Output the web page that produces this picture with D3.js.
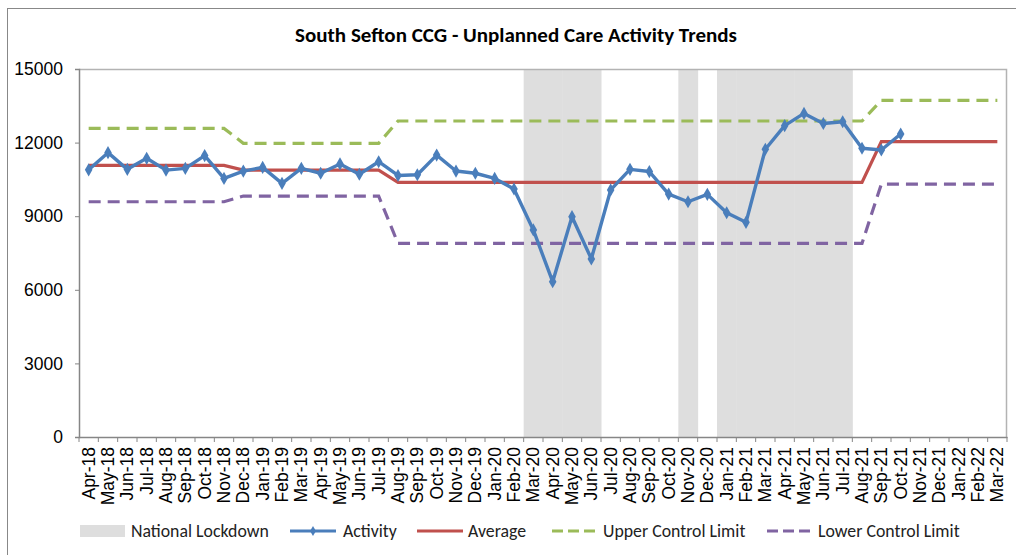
<!DOCTYPE html>
<html>
<head>
<meta charset="utf-8">
<script src="https://cdn.jsdelivr.net/npm/d3@7"></script>
<style>
  body { margin: 0; background: #fff; }
  svg { font-family: Carlito, Calibri, "Open Sans", sans-serif; }
</style>
</head>
<body>
<div id="drawing_region"></div>
<script>
// months shown on the category axis
const months = ["Apr-18","May-18","Jun-18","Jul-18","Aug-18","Sep-18","Oct-18","Nov-18","Dec-18","Jan-19","Feb-19","Mar-19",
  "Apr-19","May-19","Jun-19","Jul-19","Aug-19","Sep-19","Oct-19","Nov-19","Dec-19","Jan-20","Feb-20","Mar-20",
  "Apr-20","May-20","Jun-20","Jul-20","Aug-20","Sep-20","Oct-20","Nov-20","Dec-20","Jan-21","Feb-21","Mar-21",
  "Apr-21","May-21","Jun-21","Jul-21","Aug-21","Sep-21","Oct-21","Nov-21","Dec-21","Jan-22","Feb-22","Mar-22"];

// monthly activity (Apr-18 .. Oct-21)
const activity = [10890,11590,10910,11360,10880,10950,11470,10540,10840,10990,10340,10950,
  10750,11130,10710,11220,10660,10690,11490,10840,10750,10540,10110,8440,
  6330,8980,7260,10070,10910,10820,9900,9590,9890,9140,8750,11730,
  12690,13190,12780,12850,11770,11700,12350];

const average = [11070,11070,11070,11070,11070,11070,11070,11070,10880,10880,10880,10880,
  10880,10880,10880,10880,10380,10380,10380,10380,10380,10380,10380,10380,
  10380,10380,10380,10380,10380,10380,10380,10380,10380,10380,10380,10380,
  10380,10380,10380,10380,10380,12040,12040,12040,12040,12040,12040,12040];

const upperLimit = [12580,12580,12580,12580,12580,12580,12580,12580,11970,11970,11970,11970,
  11970,11970,11970,11970,12880,12880,12880,12880,12880,12880,12880,12880,
  12880,12880,12880,12880,12880,12880,12880,12880,12880,12880,12880,12880,
  12880,12880,12880,12880,12880,13720,13720,13720,13720,13720,13720,13720];

const lowerLimit = [9590,9590,9590,9590,9590,9590,9590,9590,9820,9820,9820,9820,
  9820,9820,9820,9820,7890,7890,7890,7890,7890,7890,7890,7890,
  7890,7890,7890,7890,7890,7890,7890,7890,7890,7890,7890,7890,
  7890,7890,7890,7890,7890,10310,10310,10310,10310,10310,10310,10310];

// months under national lockdown (drawn as full height grey columns)
const lockdown = ["Mar-20","Apr-20","May-20","Jun-20","Nov-20","Jan-21","Feb-21","Mar-21","Apr-21","May-21","Jun-21","Jul-21"];
const lockdownValue = 15000;

const yTicks = [0, 3000, 6000, 9000, 12000, 15000];

const width = 1016, height = 555;
const margin = {top: 69, right: 9, bottom: 118, left: 79};

const svg = d3.select('#drawing_region')
    .append('svg')
    .attr('width', width)
    .attr('height', height);

// outer chart border
svg.append('rect')
    .attr('x', 7.5).attr('y', 8.5)
    .attr('width', width + 10).attr('height', height + 10)
    .attr('fill', 'none')
    .attr('stroke', '#888')
    .attr('stroke-width', 1);

const inner_width = width - margin.left - margin.right;
const inner_height = height - margin.top - margin.bottom;

const chart = svg.append('g')
    .attr('transform', `translate(${margin.left}, ${margin.top})`);

const xscale = d3.scaleBand()
    .domain(months)
    .range([0, inner_width])
    .padding(0);

const yscale = d3.scaleLinear()
    .domain([0, 15000])
    .range([inner_height, 0]);

const cx = i => xscale(months[i]) + xscale.bandwidth() / 2;

// lockdown columns
chart.selectAll('rect.lockdown')
    .data(lockdown)
    .join('rect')
    .attr('class', 'lockdown')
    .attr('x', d => xscale(d))
    .attr('width', xscale.bandwidth() + 0.5)
    .attr('y', yscale(lockdownValue))
    .attr('height', inner_height - yscale(lockdownValue))
    .attr('fill', '#dedede');

// plot area border (top / right)
chart.append('path')
    .attr('d', `M0,0.5H${inner_width - 0.5}V${inner_height}`)
    .attr('fill', 'none')
    .attr('stroke', '#b3b3b3')
    .attr('stroke-width', 1.5);

// axes
const yaxis_group = chart.append('g')
    .call(d3.axisLeft(yscale).tickValues(yTicks).tickSize(4).tickPadding(12).tickFormat(d3.format('d')));

const xaxis_group = chart.append('g')
    .attr('transform', `translate(0, ${inner_height})`)
    .call(d3.axisBottom(xscale).tickSize(0).tickPadding(0));

[yaxis_group, xaxis_group].forEach(g => {
    g.select('.domain').attr('stroke', '#868686').attr('stroke-width', 1.5);
    g.selectAll('.tick line').attr('stroke', '#868686');
    g.selectAll('text').attr('fill', '#000').style('font-size', '17.5px');
});

// category tick marks between months
chart.append('g')
    .selectAll('line')
    .data(d3.range(months.length + 1))
    .join('line')
    .attr('x1', i => i * xscale.step())
    .attr('x2', i => i * xscale.step())
    .attr('y1', inner_height)
    .attr('y2', inner_height + 5)
    .attr('stroke', '#868686');

xaxis_group.selectAll('text')
    .style('font-size', '17.5px')
    .attr('text-anchor', 'end')
    .attr('dy', '0.35em')
    .attr('transform', 'translate(0,10) rotate(-90)');

// lines
const line = d3.line()
    .x((d, i) => cx(i))
    .y(d => yscale(d));

chart.append('path')
    .datum(upperLimit)
    .attr('d', line)
    .attr('fill', 'none')
    .attr('stroke', '#9BBB59')
    .attr('stroke-width', 3.2)
    .attr('stroke-dasharray', '12,7');

chart.append('path')
    .datum(lowerLimit)
    .attr('d', line)
    .attr('fill', 'none')
    .attr('stroke', '#8064A2')
    .attr('stroke-width', 3.2)
    .attr('stroke-dasharray', '12,7');

chart.append('path')
    .datum(average)
    .attr('d', line)
    .attr('fill', 'none')
    .attr('stroke', '#C0504D')
    .attr('stroke-width', 3.2);

chart.append('path')
    .datum(activity)
    .attr('d', line)
    .attr('fill', 'none')
    .attr('stroke', '#4A7EBB')
    .attr('stroke-width', 3.4)
    .attr('stroke-linejoin', 'round');

const diamond = d3.symbol().type(d3.symbolDiamond).size(50);

chart.selectAll('path.marker')
    .data(activity)
    .join('path')
    .attr('class', 'marker')
    .attr('d', diamond)
    .attr('transform', (d, i) => `translate(${cx(i)}, ${yscale(d)})`)
    .attr('fill', '#4A7EBB');

// title
svg.append('text')
    .attr('x', 516)
    .attr('y', 42)
    .attr('text-anchor', 'middle')
    .style('font-size', '21px')
    .style('font-weight', 'bold')
    .attr('fill', '#000')
    .text('South Sefton CCG - Unplanned  Care Activity Trends');

// legend
const legendY = 531;
const legend = svg.append('g').style('font-size', '17.8px');

legend.append('rect')
    .attr('x', 80).attr('y', legendY - 6)
    .attr('width', 45).attr('height', 12)
    .attr('fill', '#dedede');

const legendLines = [
    {x: 290, color: '#4A7EBB', dash: null, marker: true},
    {x: 417, color: '#C0504D', dash: null, marker: false},
    {x: 552, color: '#9BBB59', dash: '11,5', marker: false},
    {x: 767, color: '#8064A2', dash: '11,5', marker: false}
];

legendLines.forEach(l => {
    legend.append('line')
        .attr('x1', l.x).attr('x2', l.x + 46)
        .attr('y1', legendY).attr('y2', legendY)
        .attr('stroke', l.color)
        .attr('stroke-width', 3.2)
        .attr('stroke-dasharray', l.dash);
    if (l.marker) {
        legend.append('path')
            .attr('d', d3.symbol().type(d3.symbolDiamond).size(30))
            .attr('transform', `translate(${l.x + 23}, ${legendY})`)
            .attr('fill', l.color);
    }
});

const legendLabels = [
    {x: 131, text: 'National Lockdown'},
    {x: 343, text: 'Activity'},
    {x: 468, text: 'Average'},
    {x: 603, text: 'Upper Control Limit'},
    {x: 818, text: 'Lower Control Limit'}
];

legend.selectAll('text')
    .data(legendLabels)
    .join('text')
    .attr('x', d => d.x)
    .attr('y', legendY)
    .attr('dy', '0.35em')
    .attr('fill', '#222')
    .text(d => d.text);
</script>
</body>
</html>
